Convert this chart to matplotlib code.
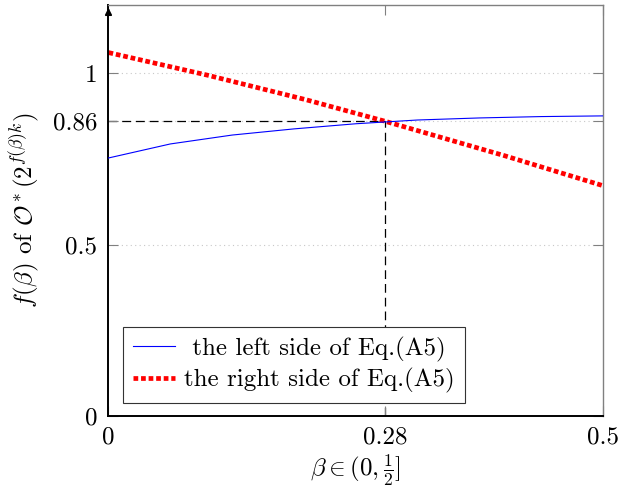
import matplotlib
matplotlib.use("Agg")
import matplotlib.pyplot as plt

plt.rcParams["font.family"] = "serif"
plt.rcParams["font.serif"] = ["cmr10"]
plt.rcParams["mathtext.fontset"] = "cm"
plt.rcParams["axes.unicode_minus"] = False
plt.rcParams["axes.formatter.use_mathtext"] = True

# values
beta = [0, 0.0625, 0.125, 0.1875, 0.25, 0.3125, 0.375, 0.4375, 0.5]
left_side = [0.753, 0.794, 0.820, 0.838, 0.853, 0.864, 0.870, 0.874, 0.876]

beta_r = [0, 0.1, 0.2, 0.28, 0.4, 0.5]
right_side = [1.061, 0.995, 0.923, 0.860, 0.760, 0.672]

cross_x = 0.28
cross_y = 0.86
xticks = [0, 0.28, 0.5]
xticklabels = ["0", "0.28", "0.5"]
yticks = [0, 0.5, 0.86, 1]
yticklabels = ["0", "0.5", "0.86", "1"]

fig = plt.figure(figsize=(6.21, 4.91), dpi=100)
ax = fig.add_axes([0.1747, 0.1534, 0.7964, 0.8364])

ax.set_xlim(0, 0.5)
ax.set_ylim(0, 1.2)

# horizontal grid only
for yv in yticks[1:]:
    ax.axhline(yv, color="#c8c8c8", lw=0.8, ls=(0, (1, 3)), zorder=0)

ax.plot([0, cross_x], [cross_y, cross_y], color="black", lw=0.9, ls=(0, (7, 4)), zorder=1)
ax.plot([cross_x, cross_x], [0, cross_y], color="black", lw=0.9, ls=(0, (7, 4)), zorder=1)

ax.plot(beta, left_side, color="blue", lw=0.8, label=" the left side of Eq.(A5)", zorder=3)
ax.plot(beta_r, right_side, color="red", lw=3.4, ls=(0, (1, 0.6)),
        label="the right side of Eq.(A5)", zorder=2)

ax.set_xticks(xticks)
ax.set_xticklabels(xticklabels)
ax.set_yticks(yticks)
ax.set_yticklabels(yticklabels)
ax.tick_params(direction="in", length=7, width=0.8, color="#808080",
               labelsize=18, top=True, right=True, pad=8)

for side in ["top", "right"]:
    ax.spines[side].set_color("#808080")
    ax.spines[side].set_linewidth(1.0)
for side in ["left", "bottom"]:
    ax.spines[side].set_color("black")
    ax.spines[side].set_linewidth(1.4)

ax.annotate("", xy=(0, 1.2), xytext=(0, 1.17),
            arrowprops=dict(arrowstyle="-|>", color="black", lw=1.2, mutation_scale=10),
            annotation_clip=False)

ax.set_xlabel(r"$\beta \in (0, \frac{1}{2}]$", fontsize=18, labelpad=2)
ax.set_ylabel(r"$f(\beta)$ of $\mathcal{O}^*(2^{f(\beta)k})$", fontsize=18, labelpad=8)

leg = ax.legend(loc="lower left", fontsize=18, fancybox=False, edgecolor="#333333",
                framealpha=1, handlelength=1.7, borderpad=0.4, labelspacing=0.25,
                handletextpad=0.35, borderaxespad=0, bbox_to_anchor=(0.029, 0.031))
leg.get_frame().set_linewidth(0.8)

fig.savefig("out.png", dpi=100)
